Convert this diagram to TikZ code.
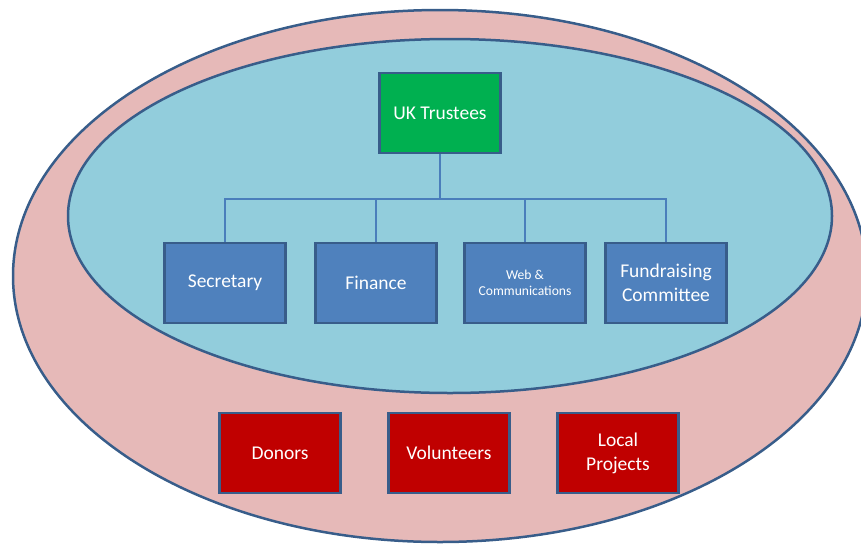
\documentclass[tikz,border=0pt]{standalone}
\usepackage{fontspec}
\setmainfont{Carlito}
\definecolor{outerpink}{HTML}{E6B9B8}
\definecolor{innerblue}{HTML}{92CDDC}
\definecolor{edgeblue}{HTML}{385D8A}
\definecolor{boxblue}{HTML}{4F81BD}
\definecolor{linkblue}{HTML}{4A7EBB}
\definecolor{boxgreen}{HTML}{00B050}
\definecolor{boxred}{HTML}{C00000}
\begin{document}
\begin{tikzpicture}[
        x = 1pt, y = -1pt,
        unit/.style = {draw = edgeblue, line width = 2.5pt, minimum width = 121pt,
          minimum height = 80pt, align = center, text = white,
          font = \fontsize{19.5}{24}\selectfont},
        top/.style = {unit, fill = boxgreen},
        team/.style = {unit, fill = boxblue},
        outside/.style = {unit, fill = boxred},
        link/.style = {draw = linkblue, line width = 1.3pt}
      ]
      \useasboundingbox (0, 0) rectangle (861, 544);
      % the two rings
      \draw[fill = outerpink, draw = edgeblue, line width = 2.5pt] (440, 276) ellipse [x radius = 427, y radius = 266];
      \draw[fill = innerblue, draw = edgeblue, line width = 2.5pt] (450, 216) ellipse [x radius = 382, y radius = 177];
      % nodes
      \node[top]     (trustees) at (440, 113) {UK Trustees};
      \node[team]    (sec)      at (225, 283) {Secretary};
      \node[team]    (fin)      at (376, 283) {Finance};
      \node[team, font = \fontsize{13.6}{16}\selectfont]
                     (web)      at (525, 283) {Web \&\\Communications};
      \node[team]    (fund)     at (666, 283) {Fundraising\\Committee};
      \node[outside] (donors)   at (280, 453) {Donors};
      \node[outside] (vols)     at (449, 453) {Volunteers};
      \node[outside] (local)    at (618, 453) {Local\\Projects};
      % the tree
      \coordinate (bar) at (440, 199);
      \draw[link] (trustees.south) -- (bar);
      \foreach \n in {sec, fin, web, fund}
        \draw[link] (bar) -| (\n.north);
    \end{tikzpicture}
\end{document}
